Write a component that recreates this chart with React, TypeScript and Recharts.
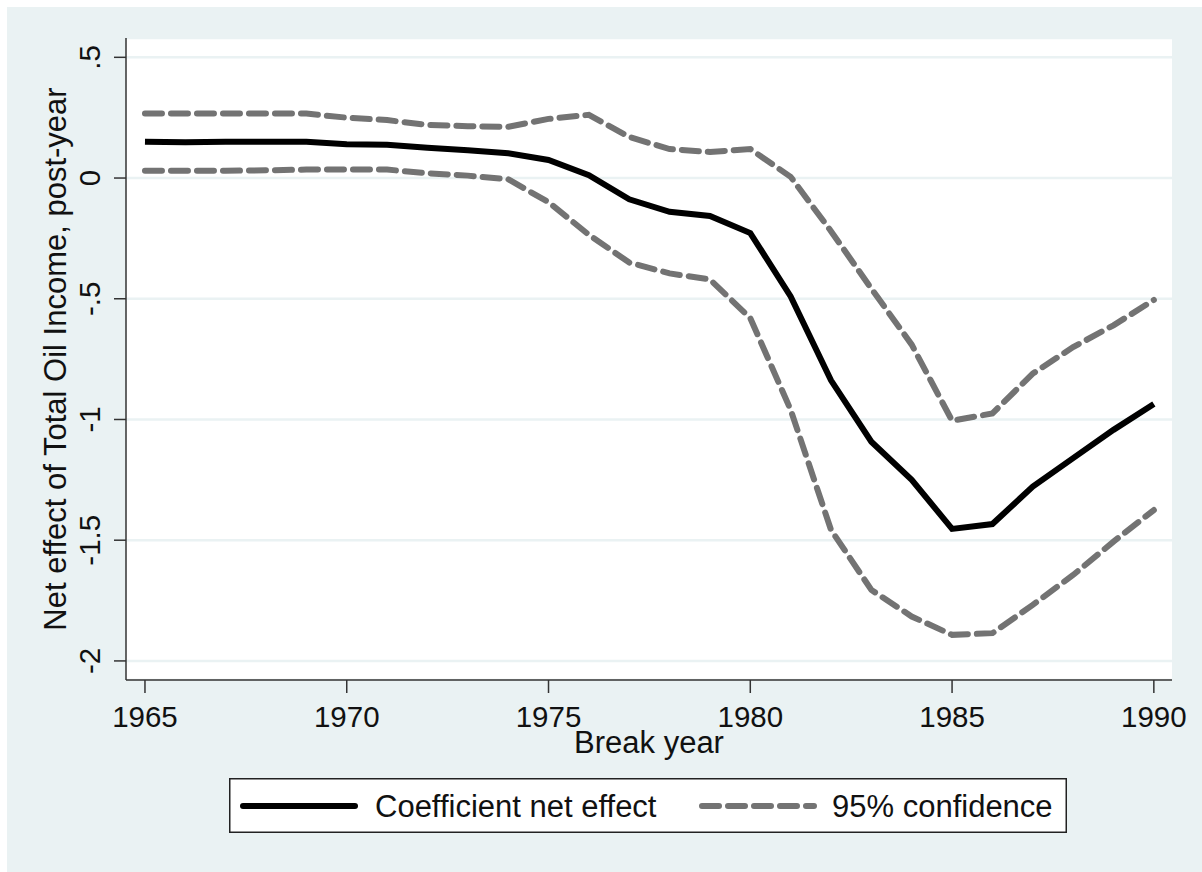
import { CartesianGrid, Legend, Line, LineChart, XAxis, YAxis } from "recharts";

const years = [
  1965, 1966, 1967, 1968, 1969, 1970, 1971, 1972, 1973, 1974, 1975, 1976, 1977,
  1978, 1979, 1980, 1981, 1982, 1983, 1984, 1985, 1986, 1987, 1988, 1989, 1990,
];
const coef = [
  0.15, 0.148, 0.15, 0.15, 0.15, 0.14, 0.138, 0.125, 0.115, 0.103, 0.075, 0.012,
  -0.088, -0.14, -0.157, -0.228, -0.49, -0.838, -1.092, -1.25, -1.453, -1.433,
  -1.278, -1.16, -1.043, -0.936,
];
const upper = [
  0.267, 0.267, 0.267, 0.267, 0.267, 0.25, 0.24, 0.22, 0.215, 0.212, 0.245, 0.262,
  0.17, 0.12, 0.108, 0.12, 0.005, -0.22, -0.458, -0.69, -1.005, -0.975, -0.81,
  -0.7, -0.61, -0.505,
];
const lower = [
  0.03, 0.03, 0.03, 0.032, 0.035, 0.035, 0.035, 0.02, 0.01, -0.005, -0.1, -0.235,
  -0.35, -0.395, -0.42, -0.58, -0.96, -1.457, -1.706, -1.816, -1.892, -1.885,
  -1.768, -1.644, -1.506, -1.375,
];
const xTicks = [1965, 1970, 1975, 1980, 1985, 1990];
const yTicks = [-2, -1.5, -1, -0.5, 0, 0.5];

const data = years.map((year, i) => ({
  year,
  coef: coef[i],
  upper: upper[i],
  lower: lower[i],
}));

const FONT = '"Liberation Sans", Arial, Helvetica, sans-serif';
const BG = "#eaf2f3";
const AXIS = "#333333";
const GREY = "#737373";
const DASH = "17 9";

const fmtY = (v: number) => {
  const s = String(v);
  return s.replace(/^0\./, ".").replace(/^-0\./, "-.");
};

const YTick = (props: any) => {
  const { x, y, payload } = props;
  const tx = x - 12;
  return (
    <text
      x={tx}
      y={y}
      transform={`rotate(-90, ${tx}, ${y})`}
      textAnchor="middle"
      fontFamily={FONT}
      fontSize={29.5}
      fill="#111"
    >
      {fmtY(payload.value)}
    </text>
  );
};

const XTick = (props: any) => {
  const { x, y, payload } = props;
  return (
    <text
      x={x}
      y={y + 32}
      textAnchor="middle"
      fontFamily={FONT}
      fontSize={29.5}
      fill="#111"
    >
      {payload.value}
    </text>
  );
};

const LegendBox = () => (
  <svg width={838} height={55} style={{ display: "block" }}>
    <rect x={0.75} y={0.75} width={836.5} height={53.5} fill="#fff" stroke="#222" strokeWidth={1.5} />
    <line x1={14} y1={28} x2={126} y2={28} stroke="#000" strokeWidth={6} strokeLinecap="round" />
    <text x={146} y={39} fontFamily={FONT} fontSize={31} fill="#111">
      Coefficient net effect
    </text>
    <line
      x1={473}
      y1={28}
      x2={585}
      y2={28}
      stroke={GREY}
      strokeWidth={6}
      strokeLinecap="round"
      strokeDasharray={DASH}
    />
    <text x={603} y={39} fontFamily={FONT} fontSize={31} fill="#111">
      95% confidence
    </text>
  </svg>
);

export default function App() {
  return (
    <div
      style={{
        position: "absolute",
        left: 0,
        top: 0,
        width: 1202,
        height: 872,
        background: "#fff",
      }}
    >
      <div
        style={{
          position: "absolute",
          left: 7,
          top: 7,
          width: 1195,
          height: 865,
          background: BG,
        }}
      />
      <div style={{ position: "absolute", left: 0, top: 0 }}>
        <LineChart
          width={1202}
          height={872}
          data={data}
          margin={{ top: 38, right: 30, bottom: 0, left: 0 }}
        >
          <CartesianGrid
            horizontal
            vertical={false}
            fill="#fff"
            stroke={BG}
            strokeWidth={2.5}
          />
          <XAxis
            dataKey="year"
            type="number"
            domain={[1964.53, 1990.45]}
            allowDataOverflow
            ticks={xTicks}
            height={192}
            tickSize={13}
            tick={<XTick />}
            axisLine={{ stroke: AXIS, strokeWidth: 1.5 }}
            tickLine={{ stroke: AXIS, strokeWidth: 1.5 }}
            label={(p: any) => {
              const vb = p.viewBox;
              return (
                <text
                  x={vb.x + vb.width / 2}
                  y={vb.y + 73}
                  textAnchor="middle"
                  fontFamily={FONT}
                  fontSize={31}
                  fill="#111"
                >
                  Break year
                </text>
              );
            }}
          />
          <YAxis
            type="number"
            domain={[-2.079, 0.58]}
            allowDataOverflow
            ticks={yTicks}
            width={126}
            tickSize={12}
            tick={<YTick />}
            axisLine={{ stroke: AXIS, strokeWidth: 1.5 }}
            tickLine={{ stroke: AXIS, strokeWidth: 1.5 }}
            label={(p: any) => {
              const vb = p.viewBox;
              const cy = vb.y + vb.height / 2;
              return (
                <text
                  x={66}
                  y={cy}
                  transform={`rotate(-90, 66, ${cy})`}
                  textAnchor="middle"
                  fontFamily={FONT}
                  fontSize={31}
                  fill="#111"
                >
                  Net effect of Total Oil Income, post-year
                </text>
              );
            }}
          />
          <Line
            type="linear"
            dataKey="upper"
            stroke={GREY}
            strokeWidth={6}
            strokeDasharray={DASH}
            strokeLinecap="round"
            dot={false}
            isAnimationActive={false}
          />
          <Line
            type="linear"
            dataKey="lower"
            stroke={GREY}
            strokeWidth={6}
            strokeDasharray={DASH}
            strokeLinecap="round"
            dot={false}
            isAnimationActive={false}
          />
          <Line
            type="linear"
            dataKey="coef"
            stroke="#000"
            strokeWidth={6}
            dot={false}
            isAnimationActive={false}
          />
          <Legend
            layout="horizontal"
            verticalAlign="middle"
            align="center"
            wrapperStyle={{ left: 229, top: 778, width: 838, height: 55 }}
            content={() => <LegendBox />}
          />
        </LineChart>
      </div>
    </div>
  );
}
